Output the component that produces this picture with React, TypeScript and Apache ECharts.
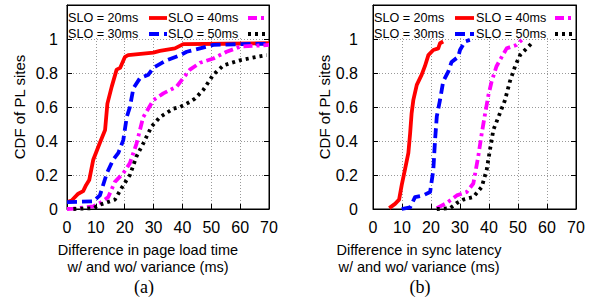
import React, { useEffect, useRef } from "react";
import * as echarts from "echarts";

// ---- data: [difference (ms), CDF] ----
const slo20A: number[][] = [[0.3,0.043],[1.6,0.05],[3.9,0.09],[5.6,0.105],[6.6,0.14],[7.7,0.17],[9.1,0.29],[11.4,0.39],[13.2,0.465],[14,0.62],[15.5,0.72],[17.2,0.82],[18.4,0.83],[20.1,0.895],[21.2,0.905],[29.9,0.92],[32.2,0.93],[37.4,0.945],[40.3,0.97],[55,0.972],[70,0.975]];
const slo30A: number[][] = [[0,0.04],[9.1,0.045],[11.4,0.08],[13.8,0.21],[16,0.29],[17.8,0.33],[19.5,0.405],[20.7,0.54],[21.8,0.6],[23,0.71],[25.3,0.77],[28.2,0.79],[29.9,0.83],[34.5,0.875],[39.2,0.905],[41.5,0.925],[46.1,0.945],[50.7,0.965],[60,0.97],[70,0.972]];
const slo40A: number[][] = [[0,0],[2.2,0.002],[9.1,0.015],[11.4,0.035],[14.3,0.07],[16.6,0.16],[19.5,0.21],[21.8,0.27],[24.1,0.385],[26.4,0.54],[29.9,0.64],[33.4,0.68],[38,0.72],[40.3,0.77],[42.6,0.82],[46.1,0.86],[50.7,0.885],[55.3,0.925],[60,0.955],[70,0.965]];
const slo50A: number[][] = [[2.2,0],[9.1,0.005],[11.4,0.025],[16.6,0.055],[19.5,0.14],[21.8,0.2],[24.1,0.31],[26.4,0.385],[29.3,0.485],[32.2,0.54],[36.8,0.59],[39.2,0.6],[42.6,0.63],[44.4,0.65],[47.2,0.7],[50.7,0.79],[54.2,0.845],[60,0.875],[65.7,0.895],[69.2,0.905]];

const slo20B: number[][] = [[5.6,0.005],[7.6,0.03],[9,0.055],[9.9,0.14],[11,0.23],[12.2,0.33],[12.8,0.445],[13.3,0.56],[13.9,0.64],[15.1,0.73],[16.8,0.79],[17.9,0.84],[19.1,0.905],[20.8,0.935],[22.5,0.945],[23.1,0.975],[24.2,0.985]];
const slo30B: number[][] = [[9.9,0],[12.8,0.01],[14.5,0.07],[17.3,0.08],[19.7,0.1],[20.8,0.23],[21.4,0.405],[22,0.545],[23.1,0.64],[24.2,0.75],[26,0.81],[27.1,0.865],[29.4,0.895],[30,0.935],[31.7,0.985],[33.4,0.995]];
const slo40B: number[][] = [[22,0.005],[25.4,0.035],[28.9,0.08],[32.3,0.1],[34.6,0.15],[36.3,0.31],[37.5,0.445],[38.6,0.555],[39.8,0.67],[40.9,0.75],[42.6,0.84],[44.4,0.895],[46.1,0.945],[49.5,0.965],[51.3,0.995]];
const slo50B: number[][] = [[22,0],[26.6,0.005],[28.9,0.035],[31.1,0.055],[34.6,0.07],[37.5,0.13],[39.2,0.23],[40.3,0.345],[41.5,0.465],[43.8,0.565],[45.5,0.64],[47.2,0.75],[49,0.84],[50.7,0.905],[53,0.945],[55.3,0.985]];

const seriesNames = ["SLO = 20ms", "SLO = 30ms", "SLO = 40ms", "SLO = 50ms"];
const xTitlesA = ["Difference in page load time", "w/ and wo/ variance (ms)"];
const xTitlesB = ["Difference in sync latency", "w/ and wo/ variance (ms)"];
const yTitle = "CDF of PL sites";
const panelLabels = ["(a)", "(b)"];

const SANS = "Liberation Sans, Arial, sans-serif";
const SERIF = "Liberation Serif, Times New Roman, serif";

const styles = [
  { color: "#ff0000", dash: "solid" as any },
  { color: "#0000ff", dash: [10, 5] },
  { color: "#ff00ff", dash: [9, 4, 3, 4] },
  { color: "#000000", dash: [3, 4] },
];

export default function App() {
  const ref = useRef<HTMLDivElement>(null);
  useEffect(() => {
    if (!ref.current) return;
    const chart = echarts.init(ref.current, undefined, { renderer: "svg" });
    const grids = [
      { left: 67, top: 5, width: 202, height: 204 },
      { left: 373, top: 5, width: 203, height: 204 },
    ];
    const gridLine = { show: true, lineStyle: { color: "#999", type: [1, 2] as any, width: 1 } };
    const tickLabel = { fontFamily: SANS, fontSize: 16, color: "#000" };
    const xAxes: any[] = [];
    const yAxes: any[] = [];
    [0, 1].forEach((g) => {
      xAxes.push({
        gridIndex: g, type: "value", min: 0, max: 70, interval: 10, position: "bottom",
        axisLine: { show: true, onZero: false, lineStyle: { color: "#000", width: 1 } },
        axisTick: { show: true, inside: true, length: 5, lineStyle: { color: "#000" } },
        axisLabel: { ...tickLabel, margin: 10 },
        splitLine: gridLine,
      });
      yAxes.push({
        gridIndex: g, type: "value", min: 0, max: 1.2, interval: 0.2, position: "left",
        axisLine: { show: true, onZero: false, lineStyle: { color: "#000", width: 1 } },
        axisTick: { show: true, inside: true, length: 5, lineStyle: { color: "#000" } },
        axisLabel: { ...tickLabel, margin: g === 0 ? 9 : 15,
          formatter: (v: number) => (v > 1.05 ? "" : String(+v.toFixed(1))) },
        splitLine: gridLine,
        name: yTitle, nameLocation: "middle", nameGap: g === 0 ? 40 : 39,
        nameTextStyle: { fontFamily: SANS, fontSize: 15, color: "#000" },
      });
    });
    [0, 1].forEach((g) => {
      xAxes.push({
        gridIndex: g, type: "value", min: 0, max: 70, interval: 10, position: "top",
        axisLine: { show: true, onZero: false, lineStyle: { color: "#000", width: 1 } },
        axisTick: { show: true, inside: true, length: 5, lineStyle: { color: "#000" } },
        axisLabel: { show: false }, splitLine: { show: false },
      });
      yAxes.push({
        gridIndex: g, type: "value", min: 0, max: 1.2, interval: 0.2, position: "right",
        axisLine: { show: true, onZero: false, lineStyle: { color: "#000", width: 1 } },
        axisTick: { show: true, inside: true, length: 5, lineStyle: { color: "#000" } },
        axisLabel: { show: false }, splitLine: { show: false },
      });
    });

    const dataA = [slo20A, slo30A, slo40A, slo50A];
    const dataB = [slo20B, slo30B, slo40B, slo50B];
    const series: any[] = [];
    [dataA, dataB].forEach((set, g) => {
      set.forEach((d, i) => {
        series.push({
          type: "line", name: seriesNames[i], xAxisIndex: g, yAxisIndex: g,
          data: d, showSymbol: false, clip: true, z: 3 + i,
          lineStyle: { color: styles[i].color, width: 3.8, type: styles[i].dash, cap: "butt", join: "round" },
        });
      });
    });

    // legend (gnuplot style: text then sample), drawn in each panel
    const graphic: any[] = [];
    const legendLayout = [
      { x0: 68, sx: 149, x1: 168, sx2: 248, sEnd2: 267, sEnd: 167 },
      { x0: 374, sx: 455, x1: 476, sx2: 555, sEnd2: 574, sEnd: 474 },
    ];
    legendLayout.forEach((L, g) => {
      graphic.push({ type: "rect", z: 1, shape: { x: grids[g].left + 1, y: 6, width: grids[g].width - 2, height: 30 }, style: { fill: "#fff" } });
      const rows = [[0, 2], [1, 3]];
      rows.forEach((row, r) => {
        const cy = 18 + r * 16;
        row.forEach((si, c) => {
          graphic.push({ type: "text", z: 20, x: c === 0 ? L.x0 : L.x1, y: cy,
            style: { text: seriesNames[si], font: `12.6px ${SANS}`, fill: "#000", verticalAlign: "middle", align: "left" } });
          graphic.push({ type: "line", z: 20,
            shape: { x1: c === 0 ? L.sx : L.sx2, y1: cy, x2: c === 0 ? L.sEnd : L.sEnd2, y2: cy },
            style: { stroke: styles[si].color, lineWidth: 3.8, lineDash: Array.isArray(styles[si].dash) ? styles[si].dash : null } });
        });
      });
    });
    const titleCenters = [148, 419];
    const labelCenters = [144, 420];
    [xTitlesA, xTitlesB].forEach((lines, g) => {
      lines.forEach((t, k) => {
        graphic.push({ type: "text", x: titleCenters[g], y: 250 + k * 17,
          style: { text: t, font: `14.5px ${SANS}`, fill: "#000", align: "center", verticalAlign: "middle" } });
      });
      graphic.push({ type: "text", x: labelCenters[g], y: 287,
        style: { text: panelLabels[g], font: `18px ${SERIF}`, fill: "#000", align: "center", verticalAlign: "middle" } });
    });

    chart.setOption({
      animation: false,
      backgroundColor: "#fff",
      grid: grids.map((gr) => ({ ...gr, show: true, borderColor: "#000", borderWidth: 1, backgroundColor: "transparent" })),
      xAxis: xAxes,
      yAxis: yAxes,
      series,
      graphic,
    });
    return () => chart.dispose();
  }, []);
  return <div ref={ref} style={{ position: "fixed", left: 0, top: 0, width: 592, height: 298, background: "#fff" }} />;
}
